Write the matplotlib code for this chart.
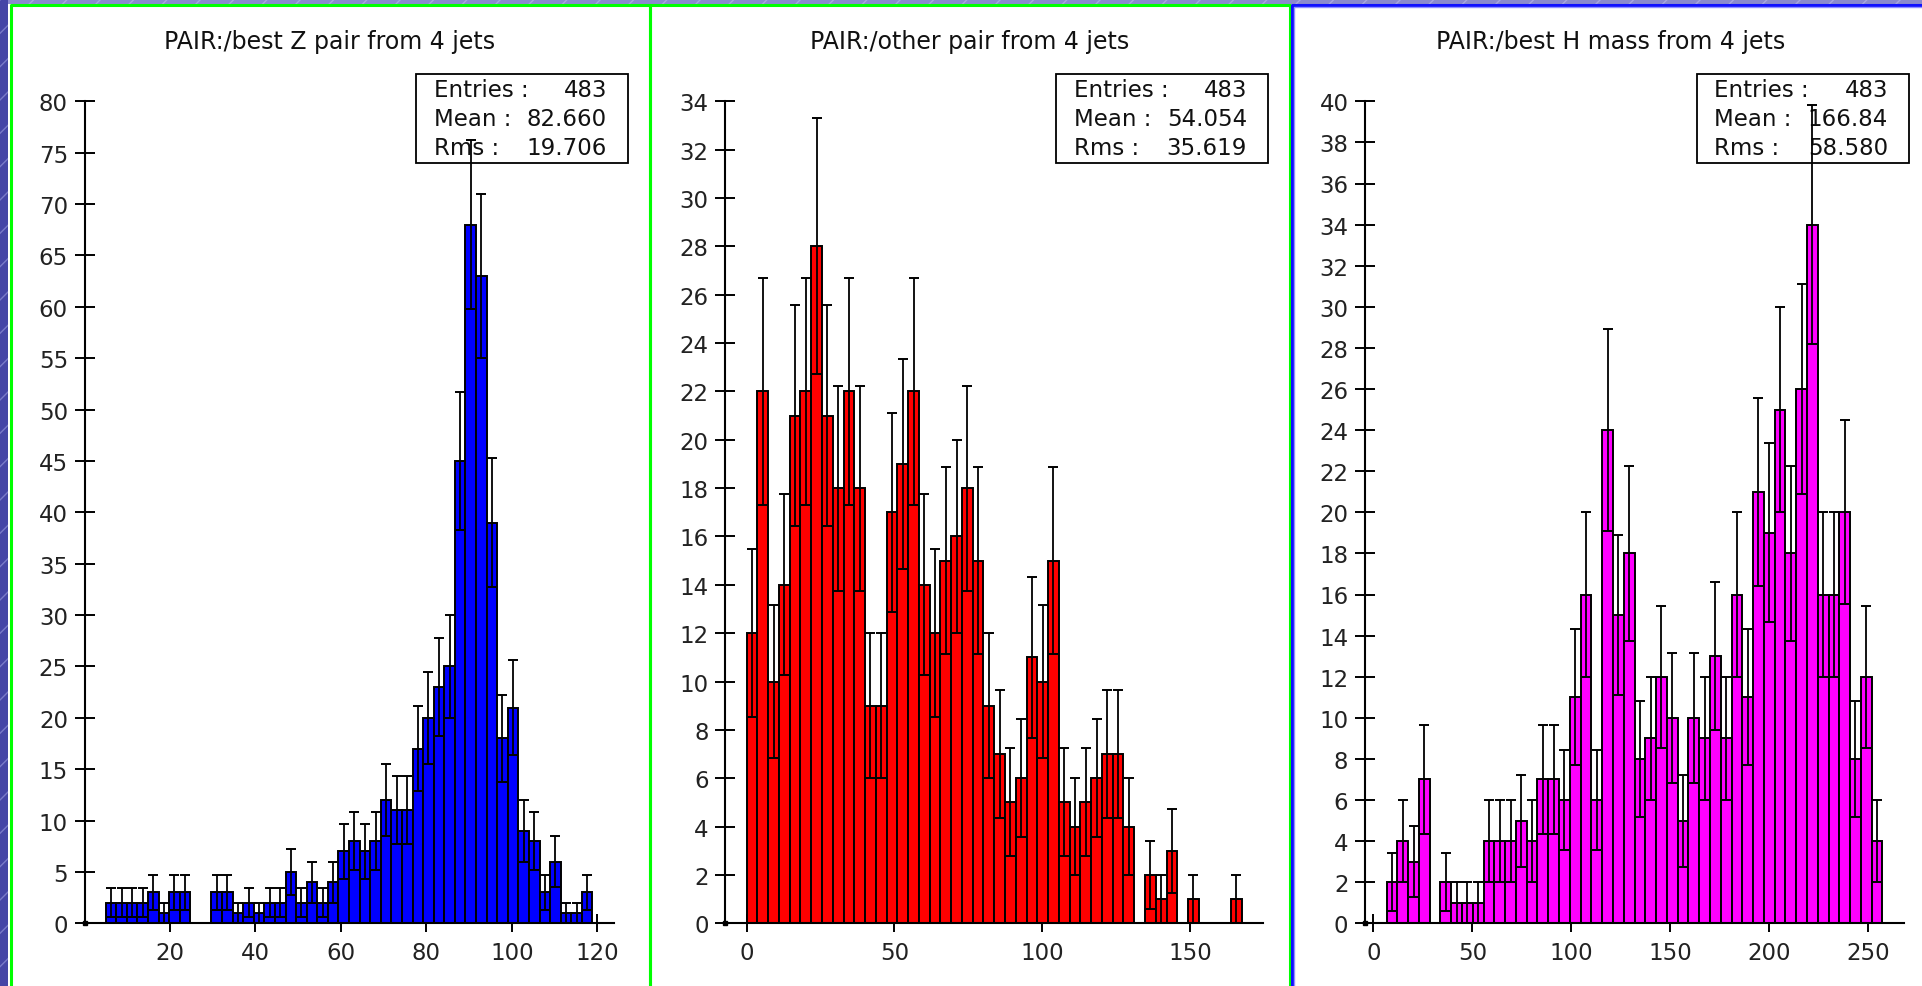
import numpy as np
import matplotlib.pyplot as plt
from matplotlib.patches import Rectangle

# 50-bin histograms, each filling its x axis range
z_range = (0.0, 123.8)
z_counts = [0, 0,
            2, 2, 2, 2, 3, 1, 3, 3, 0, 0, 3, 3, 1, 2, 1, 2, 2, 5, 2, 4, 2, 4,
            7, 8, 7, 8, 12, 11, 11, 17, 20, 23, 25, 45, 68, 63, 39, 18, 21, 9,
            8, 3, 6, 1, 1, 3,
            0, 0]

other_range = (-7.3, 174.8)
other_counts = [0, 0,
                12, 22, 10, 14, 21, 22, 28, 21, 18, 22, 18, 9, 9, 17, 19, 22,
                14, 12, 15, 16, 18, 15, 9, 7, 5, 6, 11, 10, 15, 5, 4, 5, 6, 7,
                7, 4, 0, 2, 1, 3, 0, 1, 0, 0, 0, 1,
                0, 0]

h_range = (-4.2, 268.0)
h_counts = [0, 0,
            2, 4, 3, 7, 0, 2, 1, 1, 1, 4, 4, 4, 5, 4, 7, 7, 6, 11, 16, 6, 24,
            15, 18, 8, 9, 12, 10, 5, 10, 9, 13, 9, 16, 11, 21, 19, 25, 18, 26,
            34, 16, 16, 20, 8, 12, 4,
            0, 0]

titles = ['PAIR:/best Z pair from 4 jets',
          'PAIR:/other pair from 4 jets',
          'PAIR:/best H mass from 4 jets']
stats = [('483', '82.660', '19.706'),
         ('483', '54.054', '35.619'),
         ('483', '166.84', '58.580')]
x_ticks = [[20, 40, 60, 80, 100, 120],
           [0, 50, 100, 150],
           [0, 50, 100, 150, 200, 250]]
y_ticks = [np.arange(0, 81, 5), np.arange(0, 35, 2), np.arange(0, 41, 2)]

W, H = 1922, 987
fig = plt.figure(figsize=(W / 100, H / 100), dpi=100, facecolor='white')


def fx(px):
    return px / W


def fy(py):
    return 1 - py / H


# window decoration: hatched strips and the panel frames
fig.add_artist(Rectangle((0, fy(5)), 1, fy(0) - fy(5), transform=fig.transFigure,
                         facecolor='#8a8ace', edgecolor='#a8a8e0', hatch='/',
                         linewidth=0, zorder=0))
fig.add_artist(Rectangle((0, 0), fx(8), 1, transform=fig.transFigure,
                         facecolor='#4545a6', edgecolor='#7a7ac8', hatch='/',
                         linewidth=0, zorder=0))
for x0, x1, col in [(10.5, 649.5, '#00ff00'), (649.5, 1289.5, '#00ff00')]:
    fig.add_artist(plt.Line2D([fx(x0), fx(x0), fx(x1), fx(x1)],
                              [0, fy(5.5), fy(5.5), 0], color=col, lw=2.2,
                              transform=fig.transFigure, zorder=1))
fig.add_artist(plt.Line2D([fx(1292), fx(1292), 1], [0, fy(5.5), fy(5.5)],
                          color='#1010ff', lw=2.2, transform=fig.transFigure, zorder=1))
fig.add_artist(plt.Line2D([fx(1294), fx(1294), 1], [0, fy(7.5), fy(7.5)],
                          color='#9090ff', lw=1.0, transform=fig.transFigure, zorder=1))

panels = [(z_range, z_counts, '#0000ff', 84.5, 613.6, 10),
          (other_range, other_counts, '#ff0000', 725.1, 1263.4, 650),
          (h_range, h_counts, '#ff00ff', 1365.0, 1904.0, 1291)]

y_top, y_zero = 102.3, 924.3
for i, (rng, counts, color, left, right, frame_x) in enumerate(panels):
    counts = np.array(counts, dtype=float)
    edges = np.linspace(rng[0], rng[1], len(counts) + 1)
    centers = 0.5 * (edges[:-1] + edges[1:])
    filled = counts > 0

    ax = fig.add_axes([fx(left), fy(y_zero), fx(right - left), fy(y_top) - fy(y_zero)])
    ax.set_facecolor('none')
    ax.bar(edges[:-1][filled], counts[filled], width=np.diff(edges)[filled],
           align='edge', color=color, edgecolor='black', linewidth=1.4, zorder=2)
    # sqrt(N) errors with caps at both ends
    ax.errorbar(centers[filled], counts[filled], yerr=np.sqrt(counts[filled]),
                fmt='none', ecolor='black', elinewidth=1.3, capsize=3.8,
                capthick=1.4, zorder=4)
    ax.plot([rng[0]], [0], 's', color='black', ms=3.5, clip_on=False, zorder=5)

    ax.set_xlim(rng)
    ax.set_ylim(0, y_ticks[i][-1])
    ax.set_xticks(x_ticks[i])
    ax.set_yticks(y_ticks[i])
    for side in ['top', 'right']:
        ax.spines[side].set_visible(False)
    for side in ['left', 'bottom']:
        ax.spines[side].set_linewidth(1.5)
    ax.tick_params(axis='y', direction='inout', length=15, width=1.4, pad=4.4,
                   labelsize=16.5, labelcolor='#222222')
    ax.tick_params(axis='x', direction='inout', length=13, width=1.4, pad=6.2,
                   labelsize=16.5, labelcolor='#222222')

    # title and statistics box
    fig.text(fx(frame_x + 320), fy(41.7), titles[i], ha='center', va='center',
             fontsize=17, color='#111111')
    bx = frame_x + 406
    ax.add_patch(Rectangle((fx(bx), fy(164)), fx(212), fy(75) - fy(164),
                           transform=fig.transFigure, facecolor='white',
                           edgecolor='black', linewidth=1.3, clip_on=False, zorder=3))
    for j, (lab, val) in enumerate(zip(['Entries :', 'Mean :', 'Rms :'], stats[i])):
        yy = fy(90.7 + 28.8 * j)
        ax.text(fx(bx + 17.5), yy, lab, transform=fig.transFigure, ha='left',
                va='center', fontsize=16.5, color='#111111', zorder=3.5, clip_on=False)
        ax.text(fx(bx + 191), yy, val, transform=fig.transFigure, ha='right',
                va='center', fontsize=16.5, color='#111111', zorder=3.5, clip_on=False)

fig.savefig('out.png', dpi=100)
